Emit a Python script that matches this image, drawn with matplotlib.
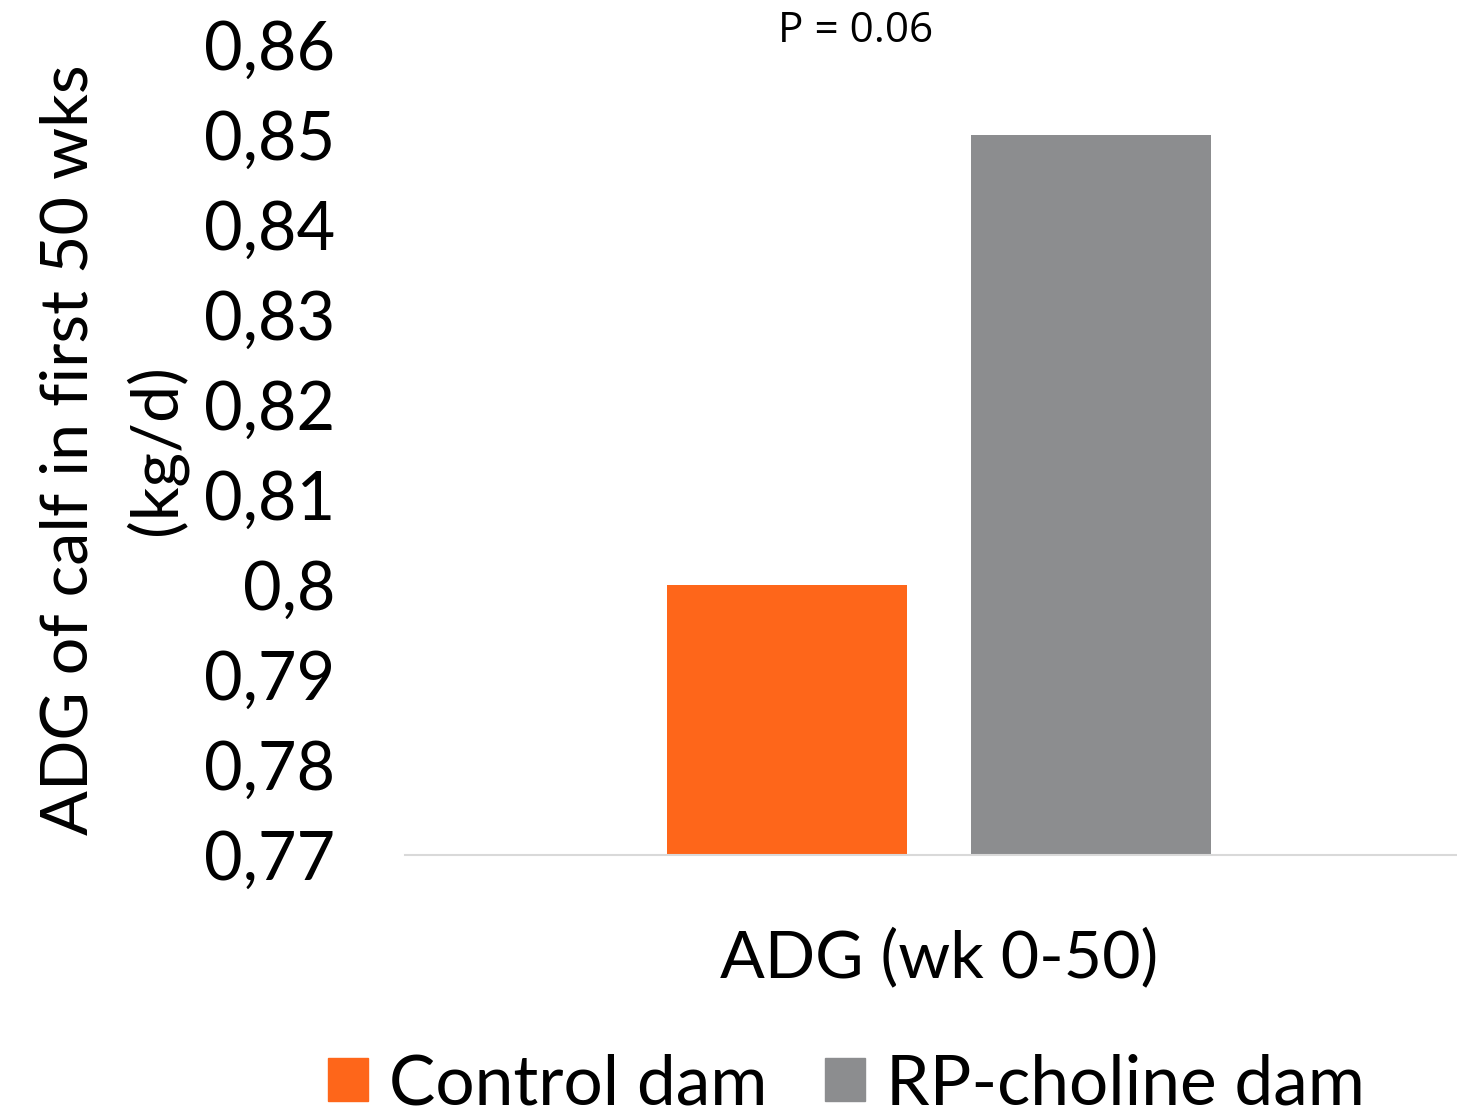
import matplotlib
matplotlib.use("Agg")
import matplotlib.pyplot as plt
from matplotlib.patches import Patch

plt.rcParams['font.family'] = ['Lato', 'DejaVu Sans']

category = "ADG (wk 0-50)"
groups = ["Control dam", "RP-choline dam"]
values = [0.80, 0.85]
colors = ["#FE661A", "#8C8D8F"]
yticks = [0.77, 0.78, 0.79, 0.80, 0.81, 0.82, 0.83, 0.84, 0.85, 0.86]
ytick_labels = ["0,77", "0,78", "0,79", "0,8", "0,81", "0,82", "0,83", "0,84", "0,85", "0,86"]

fig = plt.figure(figsize=(14.57, 11.15), dpi=100)
ax = fig.add_axes([0.278, 0.2332, 0.722, 0.7264])

width = 0.228
offsets = [-0.1445, 0.1445]
for off, v, c in zip(offsets, values, colors):
    ax.bar(off, v - 0.77, width=width, bottom=0.77, color=c)

ax.set_xlim(-0.5076, 0.4924)
ax.set_ylim(0.77, 0.86)
ax.set_yticks(yticks)
ax.set_yticklabels(ytick_labels, fontsize=48)
ax.set_xticks([0])
ax.set_xticklabels([category], fontsize=47.7)
ax.tick_params(axis='y', length=0, pad=50)
ax.tick_params(axis='x', length=0, pad=52)
for s in ["top", "right", "left"]:
    ax.spines[s].set_visible(False)
ax.spines["bottom"].set_color("#D9D9D9")
ax.spines["bottom"].set_linewidth(1.5)

ax.set_ylabel("ADG of calf in first 50 wks\n(kg/d)", fontsize=47.8, linespacing=1.5)
ax.yaxis.set_label_coords(-0.207, 0.5)

fig.text(0.5875, 0.972, "P = 0.06", fontsize=30.4, ha="center", va="center",
         family="Open Sans")

handles = [Patch(color=c) for c in colors]
fig.legend(handles, groups, loc="center", bbox_to_anchor=(0.581, 0.027), ncol=2,
           frameon=False, fontsize=50, handlelength=0.58, handleheight=0.58,
           handletextpad=0.3, columnspacing=0.83)

fig.savefig("out.png", dpi=100)
